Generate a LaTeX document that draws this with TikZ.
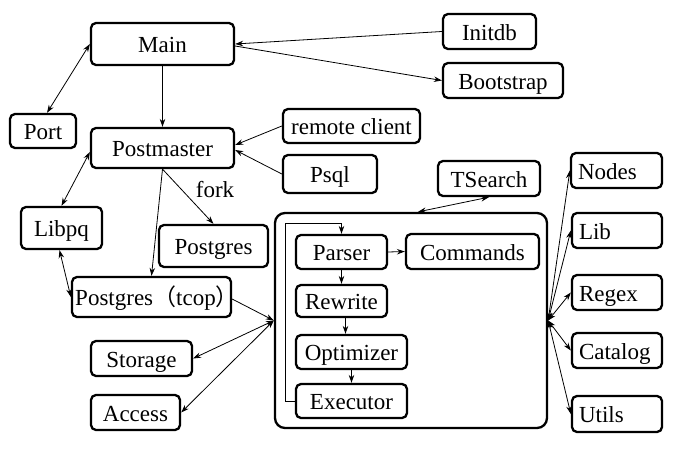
\documentclass[tikz,border=0pt]{standalone}
\usepackage{fontspec}
\setmainfont{Liberation Serif}
\newfontfamily\tnr{Liberation Serif}
\newfontfamily\cjk{Noto Sans CJK SC}
\usetikzlibrary{arrows.meta}
\begin{document}
\begin{tikzpicture}[x=1pt,y=-1pt,
  box/.style={draw, line width=2.3pt, rounded corners=5pt, inner sep=0pt,
    font=\tnr\fontsize{23}{26}\selectfont, text height=17pt, text depth=0pt},
  lbox/.style={box, align=left, inner xsep=7pt, text width=76pt, minimum height=35pt},
  big/.style={draw, line width=2.3pt, rounded corners=10pt, inner sep=0pt},
  conn/.style={line width=0.8pt, -{Stealth[length=8pt,width=5.5pt]}},
  both/.style={line width=0.8pt, {Stealth[length=8pt,width=5.5pt]}-{Stealth[length=8pt,width=5.5pt]}},
  lbl/.style={font=\tnr\fontsize{23}{26}\selectfont, inner sep=0pt}]
\useasboundingbox (0,0) rectangle (697,453);

% big container
\node[big, minimum width=272pt, minimum height=215pt] (big) at (411,320.5) {};

% nodes
\node[box, minimum width=143pt, minimum height=42pt] (main) at (162.5,44) {Main};
\node[box, minimum width=66pt, minimum height=34pt] (port) at (43,131) {Port};
\node[box, minimum width=143pt, minimum height=40pt] (pm) at (162.5,148) {Postmaster};
\node[box, minimum width=137pt, minimum height=34pt] (rc) at (351.5,126) {remote client};
\node[box, minimum width=94pt, minimum height=38pt] (psql) at (330,174) {Psql};
\node[box, minimum width=93pt, minimum height=35pt] (initdb) at (489.5,31.5) {Initdb};
\node[box, minimum width=120pt, minimum height=35pt] (boot) at (503,80.5) {Bootstrap};
\node[box, minimum width=102pt, minimum height=35pt] (ts) at (489,178.5) {TSearch};
\node[box, minimum width=81pt, minimum height=42pt] (libpq) at (61.5,228) {Libpq};
\node[box, minimum width=109pt, minimum height=42pt] (pg) at (213.5,246) {Postgres};
\node[box, minimum width=159pt, minimum height=40pt] (tcop) at (151.5,297) {Postgres{\cjk（}tcop{\cjk）}\kern-11pt};
\node[box, minimum width=101pt, minimum height=35pt] (stor) at (141.5,358.5) {Storage};
\node[box, minimum width=89pt, minimum height=35pt] (acc) at (135.5,412.5) {Access};

\node[box, minimum width=91pt, minimum height=34pt] (parser) at (341.5,252) {Parser};
\node[box, minimum width=133pt, minimum height=35pt] (cmd) at (472.5,251.5) {Commands};
\node[box, minimum width=91pt, minimum height=32pt] (rw) at (341.5,301) {Rewrite};
\node[box, minimum width=111pt, minimum height=34pt] (opt) at (351.5,352) {Optimizer};
\node[box, minimum width=111pt, minimum height=34pt] (exe) at (351.5,401) {Executor};

\node[lbox, text width=77pt] (nodes) at (616.5,170.5) {Nodes};
\node[lbox] (lib) at (617,230.5) {Lib};
\node[lbox] (regex) at (617,292.5) {Regex};
\node[lbox] (cat) at (617,350.5) {Catalog};
\node[lbox, minimum height=36pt] (utils) at (617,414) {Utils};

\node[lbl] (fork) at (215,190) {fork};
\coordinate (lp) at (285,223);

% connectors
\draw[conn] (initdb.west) -- (main.east);
\draw[conn] ([yshift=-2pt]main.east) -- (boot.west);
\draw[both] (main.west) -- ([xshift=4pt]port.north);
\draw[conn] (main.south) -- (pm.north);
\draw[conn] (rc.west) -- ([yshift=3pt]pm.east);
\draw[conn] (psql.west) -- ([yshift=-2pt]pm.east);
\draw[both] ([yshift=-4pt]pm.west) -- (libpq.north);
\draw[conn] (pm.south) -- (pg.north);
\draw[conn] (pm.south) -- (tcop.north);
\draw[both] ([xshift=-2pt]libpq.south) -- (tcop.west);
\draw[conn] ([yshift=-2pt]tcop.east) -- (big.west);
\draw[both] (stor.east) -- (big.west);
\draw[both] (acc.east) -- (big.west);
\draw[both] (ts.south) -- ([xshift=7pt]big.north);
\draw[both] (big.east) -- (nodes.west);
\draw[both] (big.east) -- (lib.west);
\draw[both] (big.east) -- (regex.west);
\draw[both] (big.east) -- (cat.west);
\draw[both] (big.east) -- (utils.west);

\draw[conn] (parser.east) -- (cmd.west);
\draw[conn] (parser.south) -- (rw.north);
\draw[conn] ([xshift=4pt]rw.south) -- ([xshift=4pt]rw.south |- opt.north);
\draw[conn] (opt.south) -- (exe.north);
\draw[conn] (exe.west) -| (lp) -| (parser.north);
\end{tikzpicture}
\end{document}
